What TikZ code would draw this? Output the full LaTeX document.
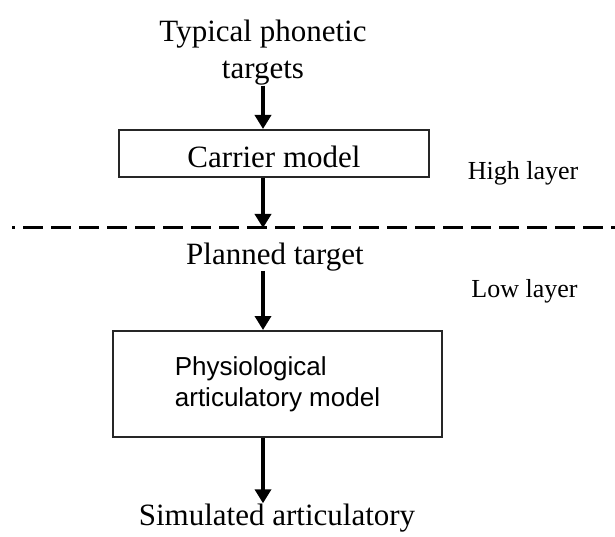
\documentclass[tikz,border=0pt]{standalone}
\usepackage{fontspec}
\setmainfont{Liberation Serif}
\setsansfont{Liberation Sans}
\usetikzlibrary{positioning,arrows.meta}

\begin{document}
\begin{tikzpicture}[x=1pt, y=-1pt, every node/.style={inner sep=0pt},
    layerbox/.style={draw=black!85, line width=2pt},
    flow/.style={line width=3.5pt, -{Triangle[width=16pt,length=14pt]}}]
    \useasboundingbox (0,0) rectangle (615,537);

    % High layer - carrier model
    \node[align=center, anchor=north, font=\fontsize{31}{37}\selectfont] (typ) at (263, 20) {Typical phonetic\\targets};
    \node[layerbox, minimum width=310pt, minimum height=47pt, text height=29pt, text depth=0pt,
          font=\fontsize{31}{37}\selectfont] (carrier) at (274, 153.5) {Carrier model};
    \node[anchor=base, font=\fontsize{26}{30}\selectfont] (high) at (523, 180) {High layer};

    % Boundary between the layers
    \coordinate (dashL) at (12, 228);
    \coordinate (dashR) at (615, 228);
    \draw[line width=3pt, dash pattern=on 20pt off 8pt, dash phase=17pt] (dashL) -- (dashR);

    % Low layer - physiological model
    \node[anchor=base, font=\fontsize{31}{37}\selectfont] (planned) at (275, 264) {Planned target};
    \node[anchor=base, font=\fontsize{26}{30}\selectfont] (low) at (524.5, 297) {Low layer};
    \node[layerbox, minimum width=329pt, minimum height=106pt, align=left,
          font=\sffamily\fontsize{26}{31}\selectfont] (phys) at (277.5, 384) {Physiological\\articulatory model};
    \node[anchor=base, font=\fontsize{31}{37}\selectfont] (sim) at (277, 525) {Simulated articulatory};

    % Arrows
    \draw[flow] (typ.south) -- (typ.south |- carrier.north);
    \draw[flow] (typ.south |- carrier.south) -- (typ.south |- dashL);
    \draw[flow] (typ.south |- planned.south) -- (typ.south |- phys.north);
    \draw[flow] (typ.south |- phys.south) -- (typ.south |- sim.north);
\end{tikzpicture}
\end{document}
